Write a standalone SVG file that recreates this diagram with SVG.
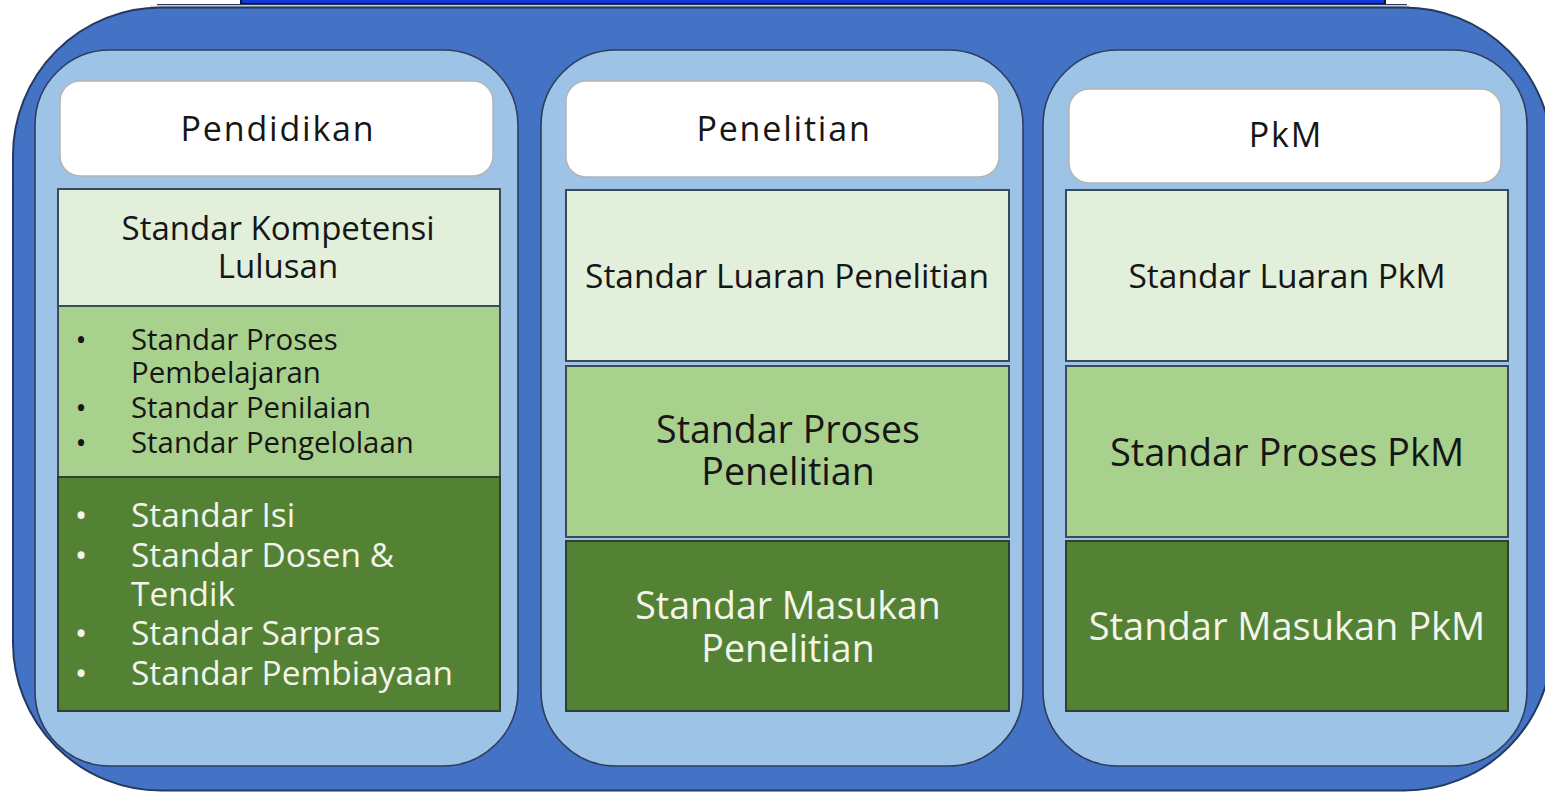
<svg xmlns="http://www.w3.org/2000/svg" width="1545" height="792" viewBox="0 0 1545 792">
<style>
.col{fill:#9DC3E6;stroke:#2E3E5C;stroke-width:1.6}
.hdr{fill:#FFFFFF;stroke:#B4B4B4;stroke-width:1.5}
.g1{fill:#E2EFDA;stroke:#3B4A58;stroke-width:2}
.g2{fill:#A9D18E;stroke:#3B4A58;stroke-width:2}
.g3{fill:#548235;stroke:#2F3F33;stroke-width:2}
text{font-family:"Open Sans","Noto Sans","DejaVu Sans",sans-serif}
.dk{fill:#161616}
.lt{fill:#F3F5EA}
.c{text-anchor:middle}
.h{font-size:34px;letter-spacing:1.8px}
</style>
<rect x="0" y="0" width="1545" height="792" fill="#FFFFFF"/>
<g id="top-strip">
<rect x="241" y="-4" width="1144" height="8" fill="#1236D8" stroke="#0B1730" stroke-width="2"/>
<line x1="157" y1="4.6" x2="1407" y2="4.6" stroke="#2B3A55" stroke-width="1.4"/>
<line x1="150" y1="6.3" x2="1410" y2="6.3" stroke="#C9CDD4" stroke-width="1.2"/>
</g>
<g id="frame">
<rect x="13" y="7.5" width="1539" height="783" rx="148" ry="148" fill="#4472C4" stroke="#24395F" stroke-width="2"/>
</g>
<g id="col-pendidikan">
<rect class="col" x="35" y="50" width="483" height="716" rx="75" ry="75"/>
<rect class="hdr" x="60" y="81" width="433" height="95" rx="20" ry="20"/>
<text class="dk c h" x="278" y="141">Pendidikan</text>
<rect class="g1" x="58" y="189" width="442" height="117"/>
<text class="dk c" x="278" y="240" font-size="33">Standar Kompetensi</text>
<text class="dk c" x="278" y="278" font-size="33">Lulusan</text>
<rect class="g2" x="58" y="306" width="442" height="171"/>
<g class="dk" font-size="29.4">
<text x="81" y="350" class="c">•</text><text x="131" y="350">Standar Proses</text>
<text x="131" y="383">Pembelajaran</text>
<text x="81" y="418" class="c">•</text><text x="131" y="418">Standar Penilaian</text>
<text x="81" y="453" class="c">•</text><text x="131" y="453">Standar Pengelolaan</text>
</g>
<rect class="g3" x="58" y="477" width="442" height="234"/>
<g class="lt" font-size="33.4">
<text x="81" y="527" class="c">•</text><text x="131" y="527">Standar Isi</text>
<text x="81" y="567" class="c">•</text><text x="131" y="567">Standar Dosen &amp;</text>
<text x="131" y="606">Tendik</text>
<text x="81" y="645" class="c">•</text><text x="131" y="645">Standar Sarpras</text>
<text x="81" y="685" class="c">•</text><text x="131" y="685">Standar Pembiayaan</text>
</g>
</g>
<g id="col-penelitian">
<rect class="col" x="541" y="50" width="482" height="716" rx="75" ry="75"/>
<rect class="hdr" x="566" y="81" width="433" height="96" rx="20" ry="20"/>
<text class="dk c h" x="784" y="141">Penelitian</text>
<rect class="g1" x="566" y="190" width="443" height="171"/>
<text class="dk c" x="787" y="288" font-size="33.5">Standar Luaran Penelitian</text>
<rect class="g2" x="566" y="366" width="443" height="171"/>
<text class="dk c" x="788" y="443" font-size="37.5">Standar Proses</text>
<text class="dk c" x="788" y="485" font-size="37.5">Penelitian</text>
<rect class="g3" x="566" y="541" width="443" height="170"/>
<text class="lt c" x="788" y="619" font-size="37.5">Standar Masukan</text>
<text class="lt c" x="788" y="662" font-size="37.5">Penelitian</text>
</g>
<g id="col-pkm">
<rect class="col" x="1043" y="50" width="484" height="716" rx="75" ry="75"/>
<rect class="hdr" x="1069" y="89" width="432" height="94" rx="20" ry="20"/>
<text class="dk c h" x="1286" y="147">PkM</text>
<rect class="g1" x="1066" y="190" width="442" height="171"/>
<text class="dk c" x="1287" y="288" font-size="33.5">Standar Luaran PkM</text>
<rect class="g2" x="1066" y="366" width="442" height="171"/>
<text class="dk c" x="1287" y="466" font-size="38">Standar Proses PkM</text>
<rect class="g3" x="1066" y="541" width="442" height="170"/>
<text class="lt c" x="1287" y="640" font-size="38">Standar Masukan PkM</text>
</g>
<g id="connectors"/>
</svg>
